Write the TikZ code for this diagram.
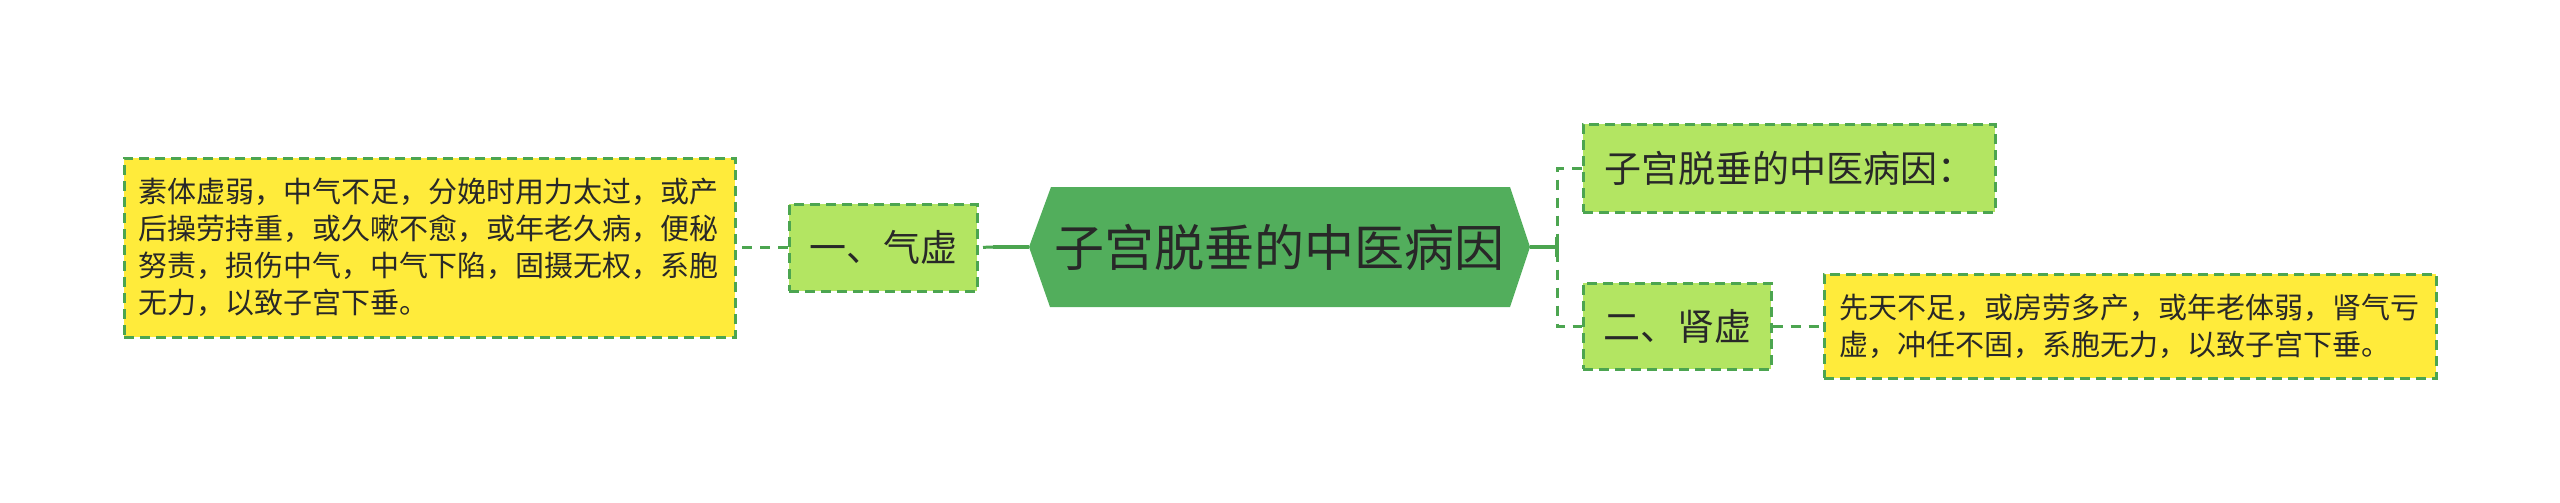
\documentclass[tikz,border=0pt]{standalone}
\usepackage{fontspec}
\newfontfamily\cjk{Noto Sans CJK SC}
\definecolor{bordergreen}{RGB}{76,165,80}
\definecolor{hexgreen}{RGB}{82,174,92}
\definecolor{subgreen}{RGB}{179,229,98}
\definecolor{leafyellow}{RGB}{255,235,59}
\definecolor{textdark}{RGB}{40,40,40}
\tikzset{
  leafbox/.style={draw=bordergreen, dash pattern=on 5pt off 3pt, line width=1.5pt,
    fill=leafyellow, inner sep=0pt, text=textdark, align=left,
    font={\cjk\fontsize{14.5}{18.5}\selectfont}},
  subbox/.style={draw=bordergreen, dash pattern=on 5pt off 3pt, line width=1.5pt,
    fill=subgreen, inner sep=0pt, text=textdark,
    font={\cjk\fontsize{18.5}{22}\selectfont}},
  conn/.style={draw=bordergreen, line width=1.5pt, dash pattern=on 5pt off 4pt},
  solidconn/.style={draw=bordergreen, line width=2pt},
  rootfont/.style={text=textdark, inner sep=0pt, font={\cjk\fontsize{25}{30}\selectfont}}
}
\begin{document}
\begin{tikzpicture}[x=0.5pt,y=-0.5pt]
\useasboundingbox (0,0) rectangle (2560,503);
% root hexagon
\coordinate (hexL) at (1029,247);
\coordinate (hexR) at (1530,247);
\fill[hexgreen] (hexL) -- (1051,187) -- (1510,187) -- (hexR) -- (1510,307) -- (1050,307) -- cycle;
\node[rootfont] (root) at (1279.5,247) {子宫脱垂的中医病因};
% left side
\node[subbox, minimum width=94pt, minimum height=43.5pt] (q1) at (883,247.5) {一、气虚};
\node[leafbox, minimum width=305.5pt, minimum height=89.5pt, text width=291pt] (l1) at (429.5,247.5)
  {素体虚弱，中气不足，分娩时用力太过，或产\\后操劳持重，或久嗽不愈，或年老久病，便秘\\努责，损伤中气，中气下陷，固摄无权，系胞\\无力，以致子宫下垂。};
% right side
\node[subbox, minimum width=206pt, minimum height=44pt] (t1) at (1789,168) {子宫脱垂的中医病因：};
\node[subbox, minimum width=94pt, minimum height=43pt] (q2) at (1677,326) {二、肾虚};
\node[leafbox, minimum width=306pt, minimum height=52pt, text width=291pt] (l2) at (2130,326)
  {先天不足，或房劳多产，或年老体弱，肾气亏\\虚，冲任不固，系胞无力，以致子宫下垂。};
% connectors
\coordinate (cL) at (993,247);
\coordinate (brk) at (1557,247);
\draw[solidconn] (hexL) -- (cL);
\draw[conn] (cL) -- (q1.east);
\draw[conn] (q1.west) -- (l1.east);
\draw[solidconn] (hexR) -- (brk);
\draw[conn] (t1.west) -| (brk) |- (q2.west);
\draw[solidconn] ([yshift=-5pt]brk) -- ([yshift=5pt]brk);
\draw[conn] (q2.east) -- (l2.west);
\end{tikzpicture}
\end{document}
